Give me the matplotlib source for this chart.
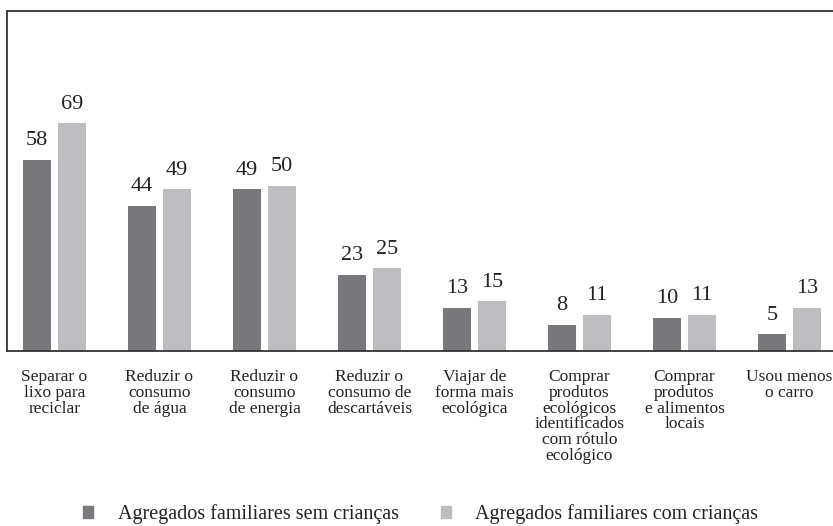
import matplotlib.pyplot as plt
from matplotlib.patches import Patch
import numpy as np

categories = [
	"Separar o\nlixo para\nreciclar",
	"Reduzir o\nconsumo\nde água",
	"Reduzir o\nconsumo\nde energia",
	"Reduzir o\nconsumo de\ndescartáveis",
	"Viajar de\nforma mais\necológica",
	"Comprar\nprodutos\necológicos\nidentificados\ncom rótulo\necológico",
	"Comprar\nprodutos\ne alimentos\nlocais",
	"Usou menos\no carro",
]
sem_criancas = [58, 44, 49, 23, 13, 8, 10, 5]
com_criancas = [69, 49, 50, 25, 15, 11, 11, 13]
series_names = ["Agregados familiares sem crianças", "Agregados familiares com crianças"]

dark = "#78797d"
light = "#bcbdc1"
serif = ["Liberation Serif", "DejaVu Serif"]

plt.rcParams["font.family"] = serif

fig = plt.figure(figsize=(8.33, 5.26), dpi=100)
ax = fig.add_axes([0.0084, 0.3327, 0.9916, 0.6463])

x = np.arange(len(categories))
w = 0.267
b1 = ax.bar(x - 0.1667, sem_criancas, w, color=dark)
b2 = ax.bar(x + 0.1667, com_criancas, w, color=light)

# value above each bar
for bars in (b1, b2):
	for r in bars:
		ax.annotate(str(int(r.get_height())), (r.get_x() + r.get_width() / 2, r.get_height()),
			xytext=(0, 7), textcoords="offset points", ha="center", va="bottom",
			fontsize=16, color="#222222", family=serif)

ax.set_xlim(-0.452, 7.414)
ax.set_ylim(0, 103)
ax.set_xticks(x)
ax.set_xticklabels(categories, fontsize=12.5, linespacing=0.98, color="#222222", family=serif)
ax.tick_params(axis="x", length=0, pad=13)
ax.set_yticks([])
ax.spines["right"].set_visible(False)
for s in ("top", "left", "bottom"):
	ax.spines[s].set_color("#333333")
	ax.spines[s].set_linewidth(1.3)

handles = [Patch(color=dark), Patch(color=light)]
fig.legend(handles, series_names, loc="center", bbox_to_anchor=(0.505, 0.022), ncol=2,
	frameon=False, handlelength=0.5, handleheight=0.5,
	handletextpad=1.2, columnspacing=2.1, labelcolor="#222222",
	prop={"family": serif, "size": 14.5})

fig.savefig("out.png", dpi=100)
